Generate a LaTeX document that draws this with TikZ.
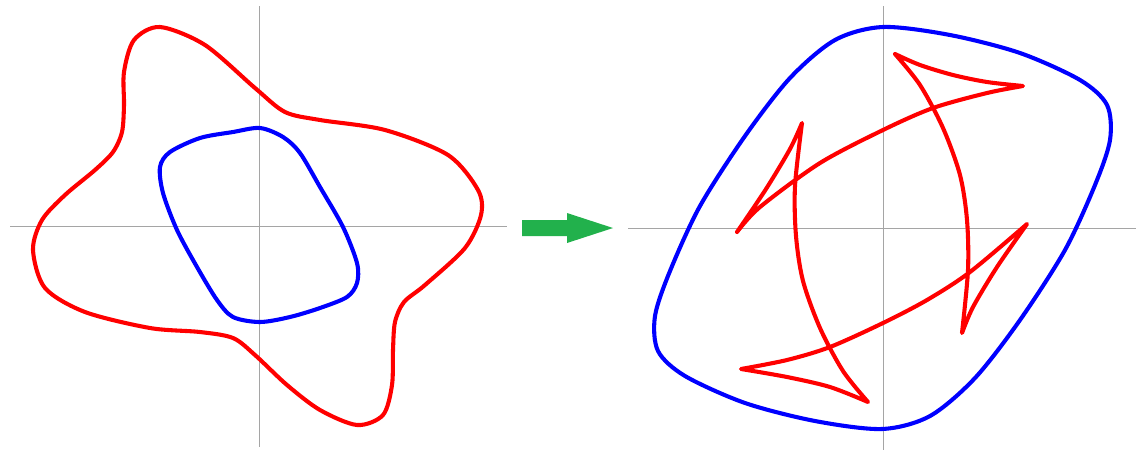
\documentclass[tikz,border=0pt]{standalone}
\usepackage{tikz}
\usepackage{xcolor}

\definecolor{axisgray}{RGB}{165,165,165}
\definecolor{curvered}{RGB}{255,0,0}
\definecolor{curveblue}{RGB}{0,0,255}
\definecolor{arrowgreen}{RGB}{34,177,76}

\begin{document}
\begin{tikzpicture}[x=0.025cm, y=-0.025cm,
      axis/.style={draw=axisgray, line width=0.7pt},
      redline/.style={draw=curvered, line width=2.9pt, line cap=round, line join=round},
      blueline/.style={draw=curveblue, line width=2.9pt, line cap=round, line join=round},
      bigarrow/.style={fill=arrowgreen, draw=none}
    ]
      \useasboundingbox (0,0) rectangle (1136,450);

      % left panel: axes
      \draw[axis] (10,226) -- (507,226);
      \draw[axis] (259,6) -- (259,447);

      % left panel: curves
      \draw[redline] plot[smooth cycle] coordinates {
        (160,27) (205,45) (255,88) (285,112) (320,120) (385,130) (448,155)
        (478,190) (481,215) (465,248) (425,285) (404,302) (395,322) (393,350)
        (392,385) (383,415) (357,425) (320,410) (287,385) (255,355) (233,338)
        (200,332) (150,328) (85,312) (45,288) (33,250) (42,220) (65,195)
        (95,170) (113,152) (122,132) (124,105) (124,72) (134,40)};
      \draw[blueline] plot[smooth cycle] coordinates {
        (260,128) (283,137) (300,153) (320,187) (343,227) (357,263) (357,283)
        (347,297) (320,308) (290,317) (260,322) (233,317) (217,300) (197,267)
        (177,230) (163,193) (160,167) (170,152) (200,138) (233,132)};

      % arrow between panels
      \fill[bigarrow] (522,220) -- (567,220) -- (567,213) -- (613,228)
        -- (567,243) -- (567,236) -- (522,236) -- cycle;

      % right panel: axes
      \draw[axis] (628,228) -- (1136,228);
      \draw[axis] (883,6) -- (883,450);

      % right panel: curves
      \draw[blueline] plot[smooth cycle] coordinates {
        (883,27) (950,35) (1020,53) (1080,80) (1107,105) (1110,140) (1095,185)
        (1065,250) (1020,320) (975,378) (930,416) (882,429) (815,421) (745,403)
        (685,376) (658,351) (655,316) (670,271) (700,206) (745,136) (790,78)
        (835,40)};
      \draw[redline]
        plot[smooth] coordinates {(895,54) (920,65) (953,75) (987,82) (1023,86)}
        -- plot[smooth] coordinates {(1023,86) (987,93) (933,108) (883,130)
             (820,163) (760,207) (737,232)}
        -- plot[smooth] coordinates {(737,232) (766,189) (790,149) (802,123)}
        -- plot[smooth] coordinates {(802,123) (795,186) (796,236) (803,281)
             (820,328) (843,371) (868,402)}
        -- plot[smooth] coordinates {(868,402) (830,387) (787,377) (741,369)}
        -- plot[smooth] coordinates {(741,369) (787,360) (830,347) (883,323)
             (927,300) (970,272) (1027,224)}
        -- plot[smooth] coordinates {(1027,224) (997,267) (973,307) (962,333)}
        -- plot[smooth] coordinates {(962,333) (968,270) (967,220) (960,175)
             (943,128) (920,85) (895,54)};
    \end{tikzpicture}
\end{document}
